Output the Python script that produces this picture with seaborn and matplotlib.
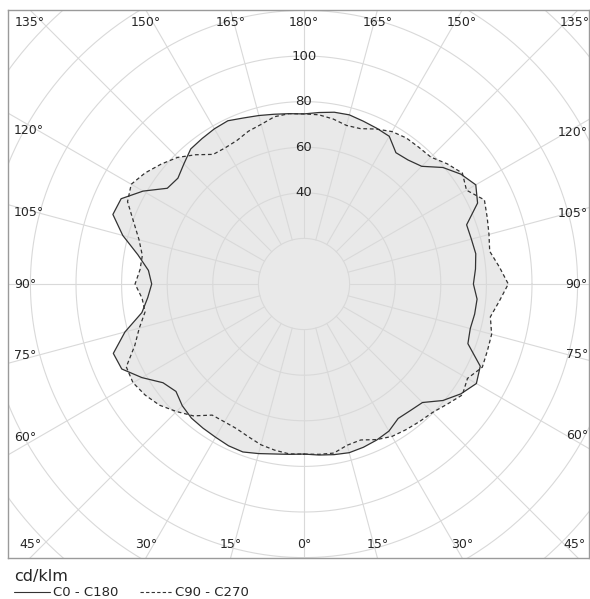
"""
Polar luminous intensity diagram (cd/klm), C0-C180 and C90-C270 planes.
"""
import numpy as np
import matplotlib
matplotlib.use('Agg')
import matplotlib.pyplot as plt
import seaborn as sns

# ──────────────────────── Data ──────────────────
gamma = np.arange(0, 181, 5)          # gamma angle, degrees

c0 = [74.6, 75.3, 76.0, 76.6, 76.2, 75.5, 74.5, 72.0, 72.5, 73.5,
      79.5, 84.0, 87.3, 85.3, 76.5, 75.5, 76.0, 76.2, 74.3, 75.5,
      76.5, 76.0, 75.9, 84.0, 87.0, 84.0, 79.5, 73.0, 71.0, 70.3,
      74.8, 75.4, 76.0, 76.8, 76.5, 75.5, 74.6]
c180 = [74.6, 75.0, 75.7, 77.0, 78.4, 78.3, 77.6, 77.2, 76.8, 75.5,
        73.3, 75.5, 82.1, 88.2, 89.0, 81.3, 72.2, 68.8, 66.8, 68.5,
        74.0, 82.3, 89.2, 88.5, 81.5, 73.2, 72.2, 74.5, 77.3, 77.9,
        78.6, 79.0, 77.5, 76.5, 75.6, 75.0, 74.6]
c90 = [74.6, 75.0, 75.3, 73.2, 72.8, 75.3, 77.2, 78.0, 78.8, 79.7,
       82.0, 84.8, 82.8, 86.3, 85.6, 85.2, 83.0, 86.0, 89.6, 86.0,
       82.7, 84.0, 85.5, 87.3, 82.3, 84.8, 82.0, 78.7, 78.3, 78.2,
       77.2, 75.0, 72.5, 72.0, 73.5, 74.5, 74.6]
c270 = [74.6, 74.8, 74.0, 73.0, 71.3, 70.0, 69.8, 70.2, 75.5, 79.1,
        82.7, 85.0, 86.6, 86.0, 79.0, 74.8, 70.8, 71.3, 74.1, 72.2,
        72.0, 74.9, 79.5, 85.4, 87.5, 85.0, 81.8, 78.5, 74.0, 69.4,
        69.0, 69.5, 71.3, 72.5, 74.5, 75.0, 74.6]

ring_values  = [20, 40, 60, 80, 100, 120, 140, 160, 180]
ring_labels  = [40, 60, 80, 100]
spoke_step   = 15
top_labels   = [135, 150, 165, 180]
bottom_labels = [0, 15, 30, 45]
side_labels  = [120, 105, 90, 75, 60]
series_names = ['C0 - C180', 'C90 - C270']

# ──────────────────────── Layout (pixels) ────────────────────────────
W, H = 590, 599
PX = 2.28                      # pixels per cd/klm
CX, CY = 304, 284              # centre of diagram
BOX = dict(left=8, right=589, top=10, bottom=558)

FILL = '#e9e9e9'
GRID = '#d9d9d9'
LINE = '#333333'
FONT = ['DejaVu Sans']


def to_xy(right, left):
    """Right half (C0/C90) and left half (C180/C270) -> closed x, y curve."""
    g = np.radians(gamma)
    right = np.asarray(right, float)
    left = np.asarray(left, float)
    xr, yr = right * np.sin(g), -right * np.cos(g)
    xl, yl = -left[::-1] * np.sin(g[::-1]), -left[::-1] * np.cos(g[::-1])
    return np.concatenate([xr, xl[1:]]), np.concatenate([yr, yl[1:]])


sns.set_style('white')
plt.rcParams['font.family'] = FONT

fig = plt.figure(figsize=(W / 100, H / 100), dpi=100)
ax = fig.add_axes([BOX['left'] / W, 1 - BOX['bottom'] / H,
                   (BOX['right'] - BOX['left']) / W,
                   (BOX['bottom'] - BOX['top']) / H])
xmin, xmax = -(CX - BOX['left']) / PX, (BOX['right'] - CX) / PX
ymin, ymax = -(BOX['bottom'] - CY) / PX, (CY - BOX['top']) / PX
ax.set_xlim(xmin, xmax)
ax.set_ylim(ymin, ymax)
ax.set_xticks([]); ax.set_yticks([])
for sp in ax.spines.values():
    sp.set_color('#9a9a9a'); sp.set_linewidth(1.0)

# ── fill (union of both planes) ─────────────────────────────────────
x1, y1 = to_xy(c0, c180)
x2, y2 = to_xy(c90, c270)
ax.fill(x1, y1, color=FILL, lw=0, zorder=0)
ax.fill(x2, y2, color=FILL, lw=0, zorder=0)

# ── grid ────────────────────────────────────────────────────────────
t = np.linspace(0, 2 * np.pi, 400)
for r in ring_values:
    ax.plot(r * np.cos(t), r * np.sin(t), color=GRID, lw=0.8, zorder=1)
for a in np.radians(np.arange(0, 360, spoke_step)):
    ax.plot([20 * np.sin(a), 250 * np.sin(a)], [-20 * np.cos(a), -250 * np.cos(a)],
            color=GRID, lw=0.8, zorder=1)

# ── curves ──────────────────────────────────────────────────────────
sns.lineplot(x=x1, y=y1, sort=False, estimator=None, ax=ax,
             color=LINE, lw=0.9, zorder=3)
sns.lineplot(x=x2, y=y2, sort=False, estimator=None, ax=ax,
             color=LINE, lw=0.9, linestyle=(0, (3, 2.2)), zorder=3)

# ── ring labels ─────────────────────────────────────────────────────
for r in ring_labels:
    ax.text(0, r, f'{r}', ha='center', va='center', fontsize=9.5, zorder=4)

# ── angle labels along the frame ────────────────────────────────────
off = 13 / PX
for g in top_labels:
    dx = ymax * np.tan(np.radians(180 - g))
    for s in ((-1, 1) if g != 180 else (1,)):
        x = np.clip(s * dx, xmin + 14 / PX, xmax - 14 / PX)
        ax.text(x, ymax - off, f'{g}°', ha='center', va='center', fontsize=9)
for g in bottom_labels:
    dx = -ymin * np.tan(np.radians(g))
    for s in ((-1, 1) if g != 0 else (1,)):
        x = np.clip(s * dx, xmin + 14 / PX, xmax - 14 / PX)
        ax.text(x, ymin + off, f'{g}°', ha='center', va='center', fontsize=9)
dl, dr = (CX - 38) / PX, (566 - CX) / PX
for g in side_labels:
    tg = np.tan(np.radians(g))
    ax.text(xmin + 6 / PX, -dl / tg, f'{g}°', ha='left', va='center', fontsize=9)
    ax.text(xmax - 1 / PX, -dr / tg, f'{g}°', ha='right', va='center', fontsize=9)

# ── legend below the frame ──────────────────────────────────────────
lax = fig.add_axes([0, 0, 1, 1], facecolor='none')
lax.set_xlim(0, W); lax.set_ylim(H, 0); lax.axis('off')
lax.text(14, 577, 'cd/klm', ha='left', va='center', fontsize=11.5)
lax.plot([14, 50], [592, 592], color=LINE, lw=0.8)
lax.text(53, 593, series_names[0], ha='left', va='center', fontsize=9.5)
lax.plot([140, 172], [592, 592], color=LINE, lw=0.8, linestyle=(0, (3, 2)))
lax.text(175, 593, series_names[1], ha='left', va='center', fontsize=9.5)

fig.savefig('out.png', dpi=100)
plt.close(fig)
